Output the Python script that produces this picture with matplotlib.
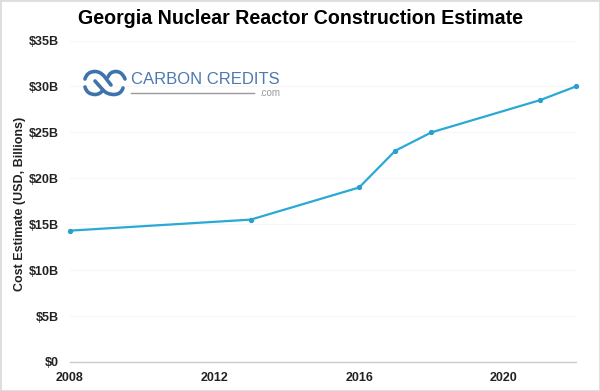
import matplotlib.pyplot as plt
from matplotlib.patches import Rectangle, PathPatch
from matplotlib.path import Path

plt.rcParams['font.family'] = ['Liberation Sans', 'DejaVu Sans']

years = [2008, 2013, 2016, 2017, 2018, 2021, 2022]
cost = [14.3, 15.5, 19.0, 23.0, 25.0, 28.5, 30.0]
y_ticks = [0, 5, 10, 15, 20, 25, 30, 35]
y_labels = ['$0', '$5B', '$10B', '$15B', '$20B', '$25B', '$30B', '$35B']
x_ticks = [2008, 2012, 2016, 2020]

W, H = 600, 391
fig = plt.figure(figsize=(6, 3.91), dpi=100)
ax = fig.add_axes([70/W, 1-362/H, (576-70)/W, (362-40.5)/H])

ax.plot(years, cost, color='#29a9d6', lw=1.6, marker='o', ms=2.8, mfc='#2b9fcb', mec='#2b9fcb', clip_on=False, zorder=3)

ax.set_xlim(2008, 2022)
ax.set_ylim(0, 35)
ax.set_yticks(y_ticks)
ax.set_yticklabels([s.replace('$', r'\$') for s in y_labels], fontsize=9, fontweight='bold', color='#222222')
ax.set_xticks(x_ticks)
ax.set_xticklabels(x_ticks, fontsize=9, fontweight='bold', color='#222222')
ax.tick_params(length=0)
ax.tick_params(axis='y', pad=8)
ax.tick_params(axis='x', pad=7)
ax.grid(axis='y', color='#f6f6f6', lw=0.8)
ax.set_axisbelow(True)
for s in ['top', 'right', 'left']:
    ax.spines[s].set_visible(False)
ax.spines['bottom'].set_color('#cccccc')
ax.spines['bottom'].set_linewidth(1.0)

fig.text(300/W, 1-18.5/H, 'Georgia Nuclear Reactor Construction Estimate', fontsize=14.15, fontweight='bold',
         color='black', ha='center', va='center')
fig.text(20.5/W, 1-204/H, 'Cost Estimate (USD, Billions)', fontsize=9, fontweight='bold', color='#222222',
         rotation=90, ha='center', va='center')

# logo, drawn in pixel positions of the picture
blue = '#3f73ad'
def px(p):
    return (p[0]/W, 1-p[1]/H)
C3 = Path.CURVE3
L = Path.LINETO
M = Path.MOVETO
strands = [
    ([(85, 79), (87, 71.5), (95, 71.5), (100, 71.5), (104, 76), (111, 85)], [M, C3, C3, C3, C3, L]),
    ([(95, 81), (103, 90), (107, 94.5), (114, 94.5), (121, 94.5), (123, 88)], [M, L, C3, C3, C3, C3]),
    ([(108, 77), (110, 71.5), (116, 71.5), (122, 71.5), (125, 79)], [M, C3, C3, C3, C3]),
    ([(85, 87), (87, 94.5), (95, 94.5), (100, 94.5), (103, 90)], [M, C3, C3, C3, C3]),
]
for pts, codes in strands:
    fig.add_artist(PathPatch(Path([px(p) for p in pts], codes), fill=False, ec=blue, lw=2.6,
                             capstyle='round', transform=fig.transFigure))
fig.text(131/W, 1-80/H, 'CARBON CREDITS', fontsize=12, color='#4d7aae', ha='left', va='center')
fig.add_artist(plt.Line2D([131/W, 254/W], [1-92.5/H, 1-92.5/H], color='#999999', lw=1.0))
fig.text(280/W, 1-92.5/H, '.com', fontsize=7, color='#999999', ha='right', va='center')

# thin grey frame of the picture
fig.add_artist(Rectangle((0, 0), 1, 1, transform=fig.transFigure, fill=False, ec='#dddddd', lw=2))

fig.savefig('out.png', dpi=100)
